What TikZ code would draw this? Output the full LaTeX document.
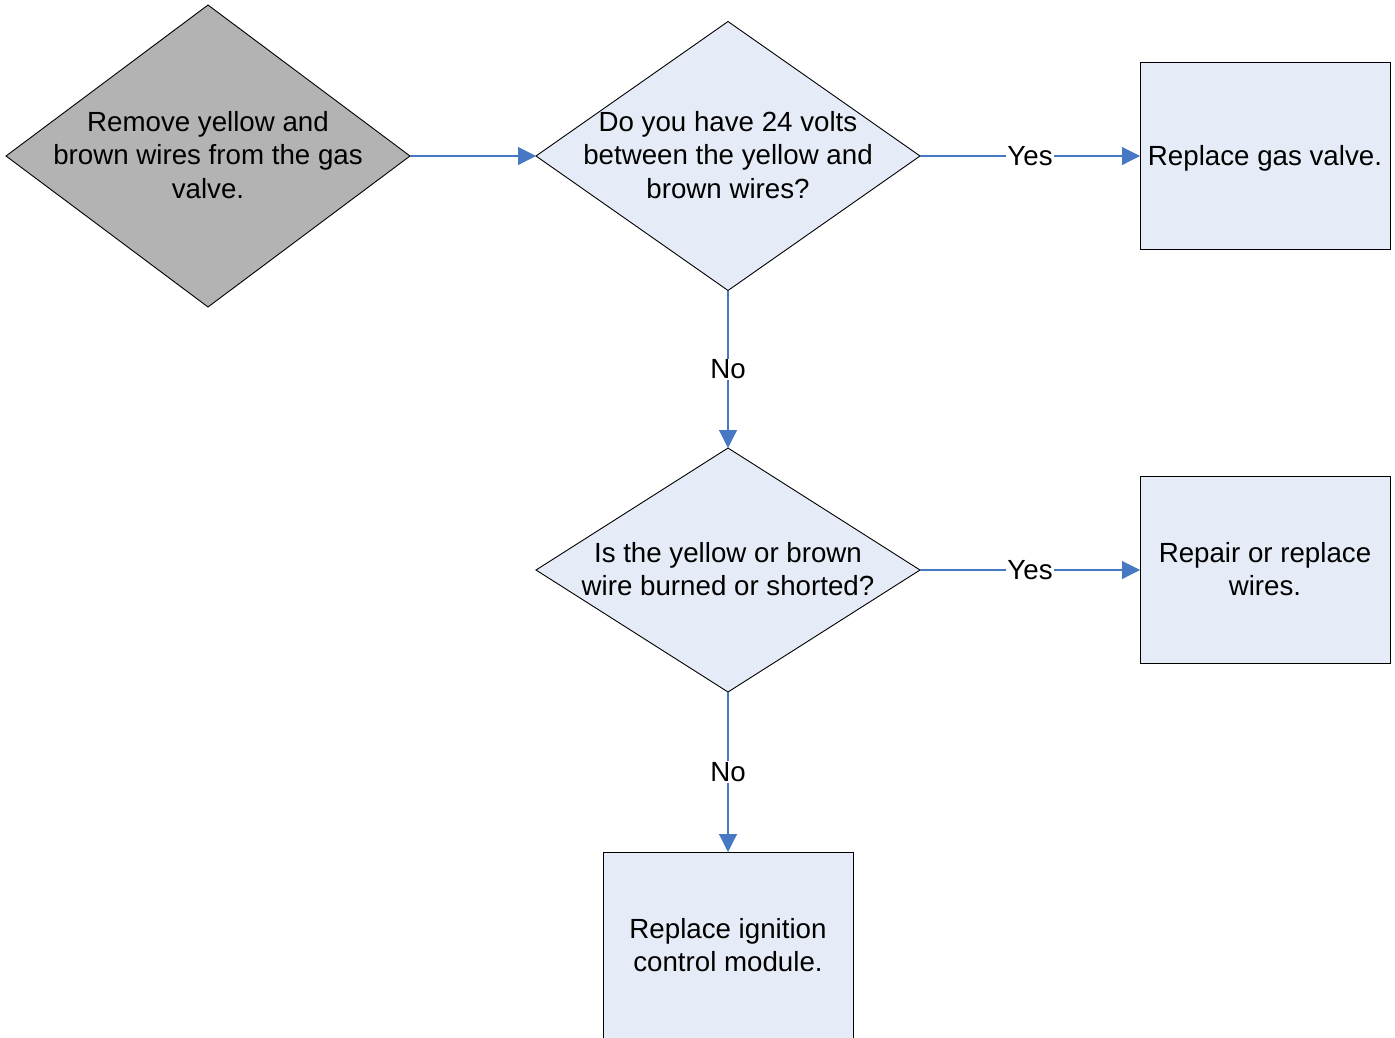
\documentclass[tikz,border=0pt]{standalone}
\usepackage{fontspec}
\setmainfont{Liberation Sans}
\usetikzlibrary{shapes.geometric,arrows.meta}
\definecolor{boxfill}{RGB}{230,236,247}
\definecolor{grayfill}{RGB}{179,179,179}
\definecolor{linkblue}{RGB}{71,120,196}
\tikzset{
  dia/.style={diamond, draw=black, line width=0.9pt, inner sep=0pt, outer sep=0pt, fill=boxfill},
  procbox/.style={rectangle, draw=black, line width=0.9pt, inner sep=0pt, outer sep=0pt, fill=boxfill, minimum width=250pt, minimum height=187pt},
  txt/.style={align=center, inner sep=0pt, font=\fontsize{27.7}{33.2}\selectfont},
  link/.style={draw=linkblue, line width=1.1pt, -{Triangle[length=18pt,width=18pt]}},
  lab/.style={fill=white, inner sep=1pt, font=\fontsize{27.7}{33.2}\selectfont}
}
\begin{document}
\begin{tikzpicture}[x=1pt,y=-1pt]
\useasboundingbox (0,0) rectangle (1395,1037);
\clip (0,0) rectangle (1395,1037);
% shapes
\node[dia, fill=grayfill, minimum width=404pt, minimum height=302pt] (d1) at (208,156) {};
\node[txt] (d1t) at (208,155) {Remove yellow and\\brown wires from the gas\\valve.};
\node[dia, minimum width=384pt, minimum height=269pt] (d2) at (728,156) {};
\node[txt] (d2t) at (728,155) {Do you have 24 volts\\between the yellow and\\brown wires?};
\node[procbox] (b1) at (1265,156) {};
\node[txt] (b1t) at (1265,158) {Replace gas valve.};
\node[dia, minimum width=384pt, minimum height=244pt] (d3) at (728,570) {};
\node[txt] (d3t) at (728,569) {Is the yellow or brown\\wire burned or shorted?};
\node[procbox] (b2) at (1265,570) {};
\node[txt] (b2t) at (1265,569) {Repair or replace\\wires.};
\node[procbox] (b3) at (728,945.5) {};
\node[txt] (b3t) at (728,945) {Replace ignition\\control module.};
% connectors
\draw[link] (d1.east) -- (d2.west);
\draw[link] (d2.east) -- node[lab] (y1) {Yes} (b1.west);
\draw[link] (d2.south) -- node[lab] (n1) {No} (d3.north);
\draw[link] (d3.east) -- node[lab] (y2) {Yes} (b2.west);
\draw[link] (d3.south) -- node[lab] (n2) {No} (b3.north);
\end{tikzpicture}
\end{document}
